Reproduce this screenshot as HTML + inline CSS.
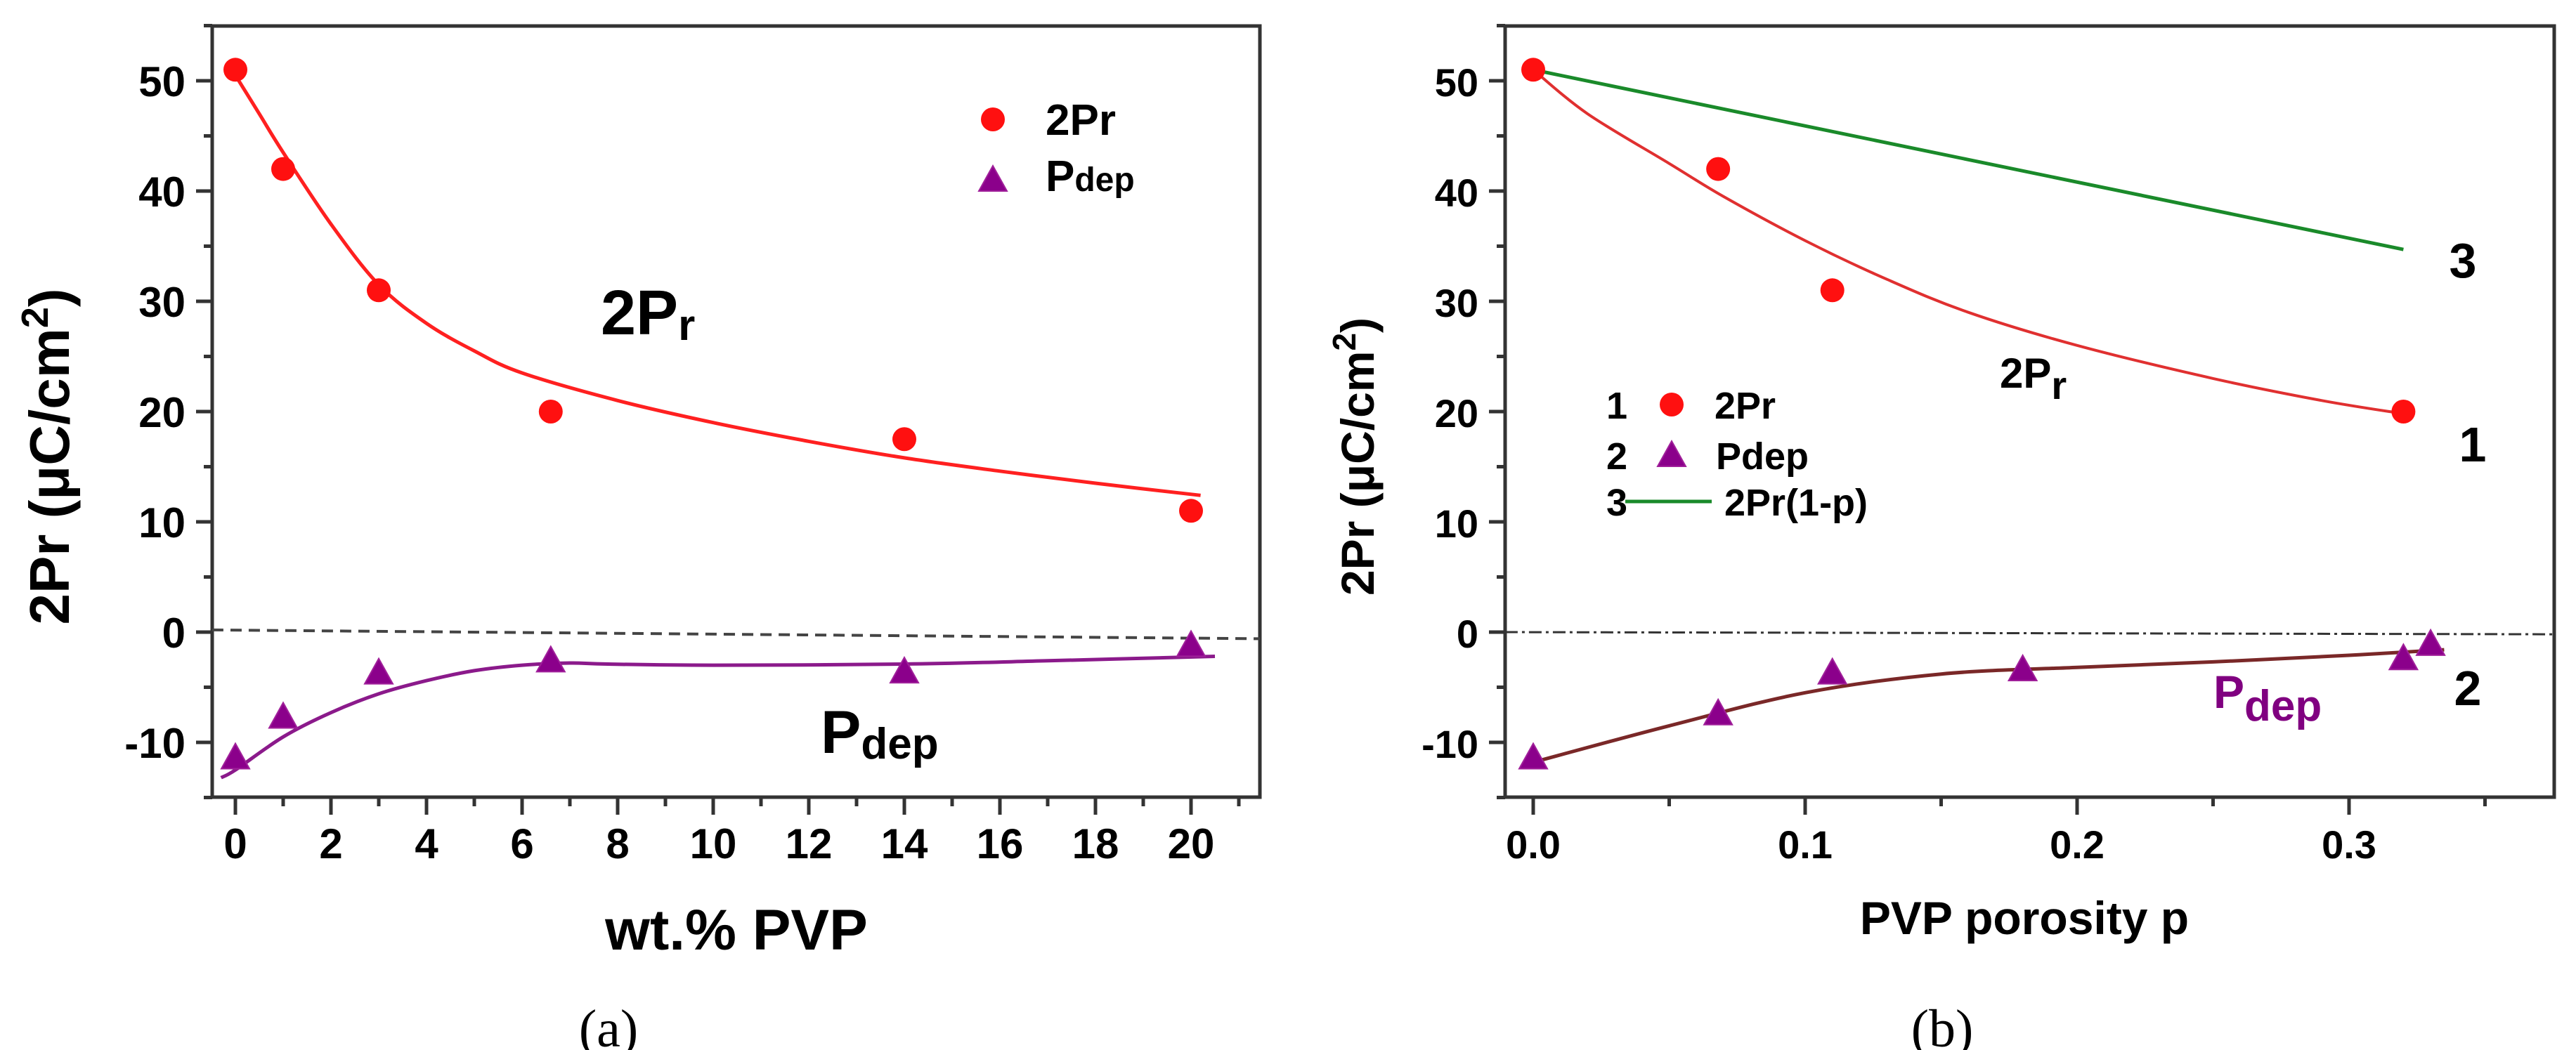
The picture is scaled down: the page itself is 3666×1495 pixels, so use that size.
<!DOCTYPE html>
<html><head><meta charset="utf-8"><style>
html,body{margin:0;padding:0;background:#fff;}
svg{display:block;font-family:"Liberation Sans",Arial,sans-serif;}
</style></head><body>
<svg id="fig" width="3666" height="1495" viewBox="0 0 3666 1495" xmlns="http://www.w3.org/2000/svg">
<g id="pa"></g>
<g id="pb"></g>
</svg>
<script>
// Panel (a) data
const aXTicks = [0,2,4,6,8,10,12,14,16,18,20];
const aYTicks = [-10,0,10,20,30,40,50];
const a2PrX = [0,1,3,6.6,14,20];
const a2PrY = [51,42,31,20,17.5,11];
const aPdepX = [0,1,3,6.6,14,20];
const aPdepY = [-11.5,-7.8,-3.8,-2.7,-3.7,-1.3];
const aFitPrX = [0,0.5,1,2,3,4,5,6,8,10,12,14,16,18,20.2];
const aFitPrY = [50.5,47,43.5,37,31.5,28,25.5,23.5,21,19,17.3,15.8,14.6,13.5,12.4];
const aFitPdX = [-0.3,0,1,2,3,4,5,6,7,7.8,10,14,17,20.5];
const aFitPdY = [-13.2,-12.5,-9.5,-7.3,-5.6,-4.4,-3.5,-3,-2.8,-2.9,-3,-2.9,-2.6,-2.2];
// Panel (b) data
const bXTicks = [0,0.1,0.2,0.3];
const bXTickLabels = ["0.0","0.1","0.2","0.3"];
const bYTicks = [-10,0,10,20,30,40,50];
const b2PrX = [0,0.068,0.11,0.32];
const b2PrY = [51,42,31,20];
const bPdepX = [0,0.068,0.11,0.18,0.32,0.33];
const bPdepY = [-11.5,-7.5,-3.8,-3.5,-2.5,-1.2];
const bFitPrX = [0,0.02,0.05,0.07,0.1,0.13,0.16,0.2,0.25,0.29,0.32];
const bFitPrY = [51,47,42.5,39.5,35.5,32,29,26,23,21,19.8];
const bLinX = [0,0.32];
const bLinY = [51,34.7];
const bFitPdX = [0,0.05,0.1,0.15,0.2,0.25,0.3,0.335];
const bFitPdY = [-11.8,-8.5,-5.5,-3.8,-3.2,-2.7,-2.1,-1.6];

const NS="http://www.w3.org/2000/svg";
function mk(parent,tag,attrs,text){const e=document.createElementNS(NS,tag);for(const k in attrs)e.setAttribute(k,attrs[k]);if(text!==undefined)e.textContent=text;parent.appendChild(e);return e;}

function panel(g,o){
  const X=v=>o.x0+(v-o.xmin)*o.xs, Y=v=>115+(50-v)*15.7;
  const fr=mk(g,'rect',{x:o.L,y:37,width:o.R-o.L,height:1135-37,fill:'none',stroke:'#333',"stroke-width":5});
  
  for(let v=-15;v<=55;v+=5){const maj=v%10===0;const t=mk(g,'line',{x1:o.L-(maj?23:12),x2:o.L,y1:Y(v),y2:Y(v),stroke:'#333',"stroke-width":5});
    }
  o.yTicks.forEach(v=>{const t=mk(g,'text',{x:o.L-38,y:Y(v)+22,"text-anchor":"end","font-size":o.tf,"font-weight":"bold"},String(v));
    });
  o.minor.forEach(v=>{const t=mk(g,'line',{x1:X(v),x2:X(v),y1:1135,y2:1148,stroke:'#333',"stroke-width":5});
    });
  o.xTicks.forEach((v,i)=>{const t=mk(g,'line',{x1:X(v),x2:X(v),y1:1135,y2:1160,stroke:'#333',"stroke-width":5});
    
    const l=mk(g,'text',{x:X(v),y:1222,"text-anchor":"middle","font-size":o.tf,"font-weight":"bold"},o.xLabels?o.xLabels[i]:String(v));
    });
  return {X,Y};
}
function curve(g,X,Y,xs,ys,color,w,name,dash){
  const P=xs.map((x,i)=>[X(x),Y(ys[i])]);
  let d='M'+P[0][0].toFixed(1)+' '+P[0][1].toFixed(1);
  for(let i=0;i<P.length-1;i++){
    const p0=P[Math.max(0,i-1)],p1=P[i],p2=P[i+1],p3=P[Math.min(P.length-1,i+2)];
    const c1=[p1[0]+(p2[0]-p0[0])/6,p1[1]+(p2[1]-p0[1])/6];
    const c2=[p2[0]-(p3[0]-p1[0])/6,p2[1]-(p3[1]-p1[1])/6];
    d+=` C${c1[0].toFixed(1)} ${c1[1].toFixed(1)} ${c2[0].toFixed(1)} ${c2[1].toFixed(1)} ${p2[0].toFixed(1)} ${p2[1].toFixed(1)}`;
  }
  const p=mk(g,'path',{d:d,fill:'none',stroke:color,"stroke-width":w,"stroke-linejoin":"round"});
  if(dash)p.setAttribute('stroke-dasharray',dash);
  
}
function circles(g,X,Y,xs,ys,name){xs.forEach((x,i)=>{const c=mk(g,'circle',{cx:X(x),cy:Y(ys[i]),r:17,fill:'#ff1010'});
  });}
function tri(g,cx,cy,name){const p=mk(g,'polygon',{points:`${cx-20},${cy+14} ${cx+20},${cy+14} ${cx},${cy-22}`,fill:'#8b008b',stroke:'#a0209a',"stroke-width":2});
  }
function tris(g,X,Y,xs,ys,name){xs.forEach((x,i)=>tri(g,X(x),Y(ys[i]),name));}
function txt(g,attrs,parts,name){const t=mk(g,'text',attrs);parts.forEach(p=>{mk(t,'tspan',p.a||{},p.t);});
  return t;}

// ---- Panel A
const ga=document.getElementById('pa');
const A=panel(ga,{L:302,R:1793,x0:335,xmin:0,xs:68,tf:60,yTicks:aYTicks,xTicks:aXTicks,minor:[1,3,5,7,9,11,13,15,17,19,21]});
curve(ga,x=>x,y=>y,[302,1793],[A.Y(0.2),A.Y(-0.6)],'#444',4,'zero-line','16 10');
curve(ga,A.X,A.Y,aFitPrX,aFitPrY,'#ff2020',5,'fit-2pr-curve');
curve(ga,A.X,A.Y,aFitPdX,aFitPdY,'#8b1a8b',5,'fit-pdep-curve');
circles(ga,A.X,A.Y,a2PrX,a2PrY,'point-2pr');
tris(ga,A.X,A.Y,aPdepX,aPdepY,'point-pdep');
const la=mk(ga,'circle',{cx:1413,cy:170,r:17,fill:'#ff1010'});
txt(ga,{x:1488,y:192,"font-size":62,"font-weight":"bold"},[{t:'2Pr'}],'legend-2pr-label');
tri(ga,1413,258,'legend-pdep-marker');
txt(ga,{x:1488,y:272,"font-size":62,"font-weight":"bold"},[{t:'P'},{t:'dep',a:{"font-size":48}}],'legend-pdep-label');
txt(ga,{x:855,y:476,"font-size":90,"font-weight":"bold"},[{t:'2P'},{t:'r',a:{"font-size":62,dy:8}}],'label-2pr');
txt(ga,{x:1168,y:1072,"font-size":86,"font-weight":"bold"},[{t:'P'},{t:'dep',a:{"font-size":62,dy:8}}],'label-pdep');
txt(ga,{x:0,y:0,"font-size":80,"font-weight":"bold","text-anchor":"middle",transform:"translate(98,650) rotate(-90)"},[{t:'2Pr (μC/cm'},{t:'2',a:{"font-size":54,dy:-30}},{t:')',a:{dy:30}}],'y-axis-title');
txt(ga,{x:1048,y:1352,"font-size":82,"font-weight":"bold","text-anchor":"middle"},[{t:'wt.% PVP'}],'x-axis-title');
txt(ga,{x:866,y:1490,"font-size":76,"text-anchor":"middle","font-family":"Liberation Serif, serif"},[{t:'(a)'}],'panel-label-a');

// ---- Panel B
const gb=document.getElementById('pb');
const B=panel(gb,{L:2142,R:3635,x0:2182,xmin:0,xs:3870,tf:56,yTicks:bYTicks,xTicks:bXTicks,xLabels:bXTickLabels,minor:[0.05,0.15,0.25,0.35]});
curve(gb,x=>x,y=>y,[2142,3635],[B.Y(0),B.Y(-0.2)],'#333',3,'zero-line','18 6 4 6');
curve(gb,B.X,B.Y,bLinX,bLinY,'#1a8a2a',5,'line-2pr-1-p');
curve(gb,B.X,B.Y,bFitPrX,bFitPrY,'#e03030',4,'fit-2pr-curve');
curve(gb,B.X,B.Y,bFitPdX,bFitPdY,'#7a2828',5,'fit-pdep-curve');
circles(gb,B.X,B.Y,b2PrX,b2PrY,'point-2pr');
tris(gb,B.X,B.Y,bPdepX,bPdepY,'point-pdep');
txt(gb,{x:3505,y:395,"font-size":70,"font-weight":"bold","text-anchor":"middle"},[{t:'3'}],'curve-label-3');
txt(gb,{x:3519,y:657,"font-size":70,"font-weight":"bold","text-anchor":"middle"},[{t:'1'}],'curve-label-1');
txt(gb,{x:3512,y:1004,"font-size":70,"font-weight":"bold","text-anchor":"middle"},[{t:'2'}],'curve-label-2');
txt(gb,{x:2846,y:552,"font-size":60,"font-weight":"bold"},[{t:'2P'},{t:'r',a:{"font-size":56,dy:16}}],'label-2pr');
txt(gb,{x:3150,y:1008,"font-size":66,"font-weight":"bold",fill:'#800080'},[{t:'P'},{t:'dep',a:{"font-size":62,dy:18}}],'label-pdep');
txt(gb,{x:2301,y:596,"font-size":54,"font-weight":"bold","text-anchor":"middle"},[{t:'1'}],'legend-num-1');
const lb=mk(gb,'circle',{cx:2379,cy:576,r:17,fill:'#ff1010'});
txt(gb,{x:2440,y:596,"font-size":54,"font-weight":"bold"},[{t:'2Pr'}],'legend-2pr-label');
txt(gb,{x:2301,y:668,"font-size":54,"font-weight":"bold","text-anchor":"middle"},[{t:'2'}],'legend-num-2');
tri(gb,2379,650,'legend-pdep-marker');
txt(gb,{x:2442,y:668,"font-size":54,"font-weight":"bold"},[{t:'Pdep'}],'legend-pdep-label');
txt(gb,{x:2301,y:734,"font-size":54,"font-weight":"bold","text-anchor":"middle"},[{t:'3'}],'legend-num-3');
curve(gb,x=>x,y=>y,[2313,2436],[714,714],'#1a8a2a',5,'legend-line-marker');
txt(gb,{x:2454,y:734,"font-size":54,"font-weight":"bold"},[{t:'2Pr(1-p)'}],'legend-line-label');
txt(gb,{x:0,y:0,"font-size":66,"font-weight":"bold","text-anchor":"middle",transform:"translate(1955,650) rotate(-90)"},[{t:'2Pr (μC/cm'},{t:'2',a:{"font-size":46,dy:-26}},{t:')',a:{dy:26}}],'y-axis-title');
txt(gb,{x:2881,y:1330,"font-size":66,"font-weight":"bold","text-anchor":"middle"},[{t:'PVP porosity p'}],'x-axis-title');
txt(gb,{x:2764,y:1490,"font-size":76,"text-anchor":"middle","font-family":"Liberation Serif, serif"},[{t:'(b)'}],'panel-label-b');
</script>
</body></html>
